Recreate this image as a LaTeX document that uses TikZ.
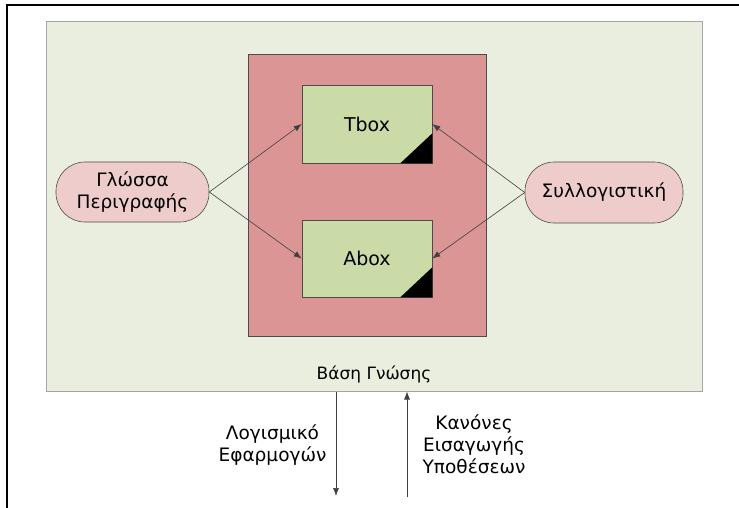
\documentclass[tikz,border=0pt]{standalone}
\usepackage{fontspec}
\setmainfont{DejaVu Sans}
\usetikzlibrary{arrows.meta}
\definecolor{kbfill}{HTML}{EAEEDE}
\definecolor{storefill}{HTML}{DB9594}
\definecolor{boxfill}{HTML}{CBDBA8}
\definecolor{pillfill}{HTML}{EFCCCC}
\tikzset{
  kbbox/.style={draw=gray!70, line width=1pt, fill=kbfill},
  storebox/.style={draw=gray!60!black, line width=0.6pt, fill=storefill},
  tabox/.style={draw=gray!60!black, line width=0.6pt, fill=boxfill, font=\fontsize{19}{22}\selectfont},
  pill/.style={draw=gray!60!black, line width=0.6pt, fill=pillfill, rounded corners=29pt, align=center, font=\fontsize{18.5}{22}\selectfont},
  label/.style={align=center, font=\fontsize{18.5}{22}\selectfont},
  link/.style={draw=black!75, line width=0.6pt, -{Latex[length=8pt,width=6pt]}}
}
\begin{document}
\begin{tikzpicture}[x=1pt,y=-1pt]
    \useasboundingbox (0,0) rectangle (739,508);
    \draw[line width=1.6pt] (7,508) -- (7,5) -- (739,5);

    \node[kbbox, minimum width=656pt, minimum height=369pt] (kb) at (374,206.5) {};
    \node[storebox, minimum width=238pt, minimum height=282pt] (store) at (367,195) {};
    \node[tabox, minimum width=130pt, minimum height=78pt] (tbox) at (367,124) {Tbox};
    \node[tabox, minimum width=130pt, minimum height=77pt] (abox) at (367,258.5) {Abox};
    \fill (tbox.south east) -- ++(-32,0) -- ++(32,-30) -- cycle;
    \fill (abox.south east) -- ++(-32,0) -- ++(32,-30) -- cycle;

    \node[pill, minimum width=153pt, minimum height=60pt] (lang) at (132.5,192) {Γλώσσα\\Περιγραφής};
    \node[pill, minimum width=158pt, minimum height=61pt] (reason) at (604,192.5) {Συλλογιστική};

    \node[label, font=\fontsize{17}{22}\selectfont] (kbname) at (374,374) {Βάση Γνώσης};
    \node[label] (apps) at (272.5,445) {Λογισμικό\\Εφαρμογών};
    \node[label] (rules) at (474,444) {Κανόνες\\Εισαγωγής\\Υποθέσεων};

    \coordinate (appsend) at (336,496);
    \coordinate (rulesstart) at (407,497);

    \draw[link] (lang.east) -- (tbox.west);
    \draw[link] (lang.east) -- (abox.west);
    \draw[link] (reason.west) -- (tbox.east);
    \draw[link] (reason.west) -- (abox.east);
    \draw[link] (kb.south -| appsend) -- (appsend);
    \draw[link] (rulesstart) -- (kb.south -| rulesstart);
\end{tikzpicture}
\end{document}
